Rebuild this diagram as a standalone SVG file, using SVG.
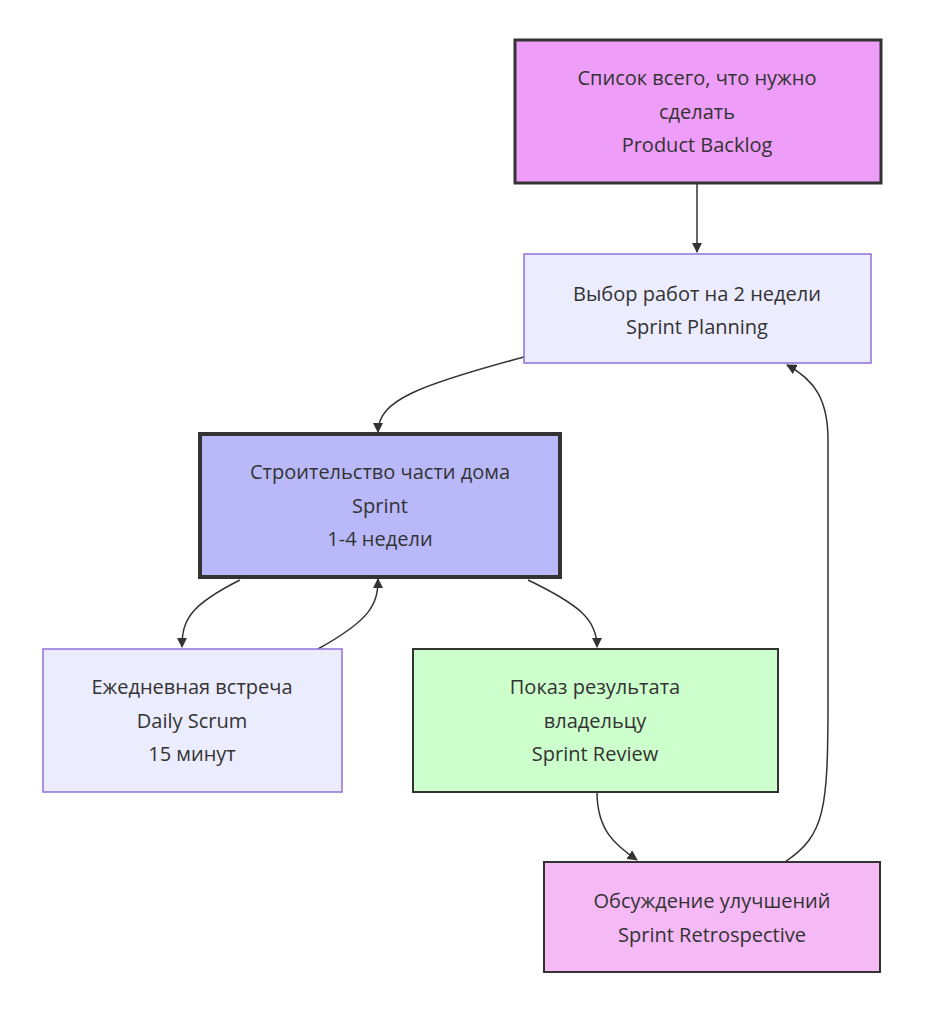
<svg xmlns="http://www.w3.org/2000/svg" width="932" height="1024" viewBox="0 0 932 1024">
<defs>
<marker id="arr" viewBox="0 0 10 10" refX="9" refY="5" markerWidth="7" markerHeight="7" orient="auto"><path d="M0,0 L10,5 L0,10 z" fill="#333"/></marker>
<style>
text{font-family:"Open Sans","DejaVu Sans",sans-serif;font-size:20px;fill:#333;text-anchor:middle}
.e{fill:none;stroke:#333;stroke-width:1.5;marker-end:url(#arr)}
.light{fill:#ececff;stroke:#9370db;stroke-width:1.5}
</style>
</defs>
<rect width="932" height="1024" fill="#fff"/>
<g id="connectors">
<path class="e" d="M697,183 L697,252"/>
<path class="e" d="M524,357 C420,385 378,400 378,432"/>
<path class="e" d="M240,580 C190,605 182,620 182,647"/>
<path class="e" d="M318,649 C370,620 378,605 378,579"/>
<path class="e" d="M528,580 C580,605 597,620 597,647"/>
<path class="e" d="M597,792 C597,830 615,845 637,860"/>
<path class="e" d="M785,862 C825,835 828,810 828,700 L828,440 C828,400 815,380 787,365"/>
</g>
<g id="backlog"><rect x="515" y="40" width="366" height="143" fill="#ee9ef8" stroke="#333" stroke-width="3"/>
<text x="697" y="85">Список всего, что нужно</text><text x="697" y="119">сделать</text><text x="697" y="152">Product Backlog</text></g>
<g id="planning"><rect class="light" x="524" y="254" width="347" height="109"/>
<text x="697" y="301">Выбор работ на 2 недели</text><text x="697" y="334">Sprint Planning</text></g>
<g id="sprint"><rect x="200" y="434" width="360" height="143" fill="#b9b9fa" stroke="#333" stroke-width="4"/>
<text x="380" y="479">Строительство части дома</text><text x="380" y="513">Sprint</text><text x="380" y="546">1-4 недели</text></g>
<g id="daily"><rect class="light" x="43" y="649" width="299" height="143"/>
<text x="192" y="694">Ежедневная встреча</text><text x="192" y="728">Daily Scrum</text><text x="192" y="761">15 минут</text></g>
<g id="review"><rect x="413" y="649" width="365" height="143" fill="#ccffcc" stroke="#333" stroke-width="2"/>
<text x="595" y="694">Показ результата</text><text x="595" y="728">владельцу</text><text x="595" y="761">Sprint Review</text></g>
<g id="retro"><rect x="544" y="862" width="336" height="110" fill="#f5b9f5" stroke="#333" stroke-width="2"/>
<text x="712" y="908">Обсуждение улучшений</text><text x="712" y="942">Sprint Retrospective</text></g>
</svg>
